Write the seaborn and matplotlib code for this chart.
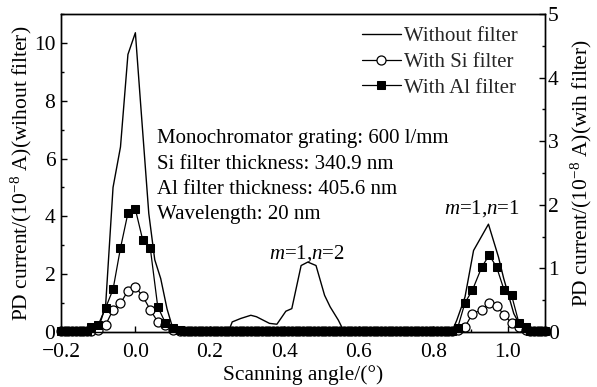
import numpy as np
import pandas as pd
import matplotlib
matplotlib.use('Agg')
import matplotlib.pyplot as plt
import seaborn as sns
from matplotlib.ticker import MultipleLocator

# ---- data ----
# without filter (left axis, 1e-8 A)
x_wo = [-0.20, -0.14, -0.12, -0.10, -0.08, -0.06, -0.04, -0.02, 0.00, 0.014, 0.036,
        0.052, 0.068, 0.085, 0.10, 0.12, 0.25, 0.26, 0.283, 0.31, 0.325, 0.36, 0.38,
        0.404, 0.42, 0.445, 0.463, 0.485, 0.508, 0.523, 0.545, 0.56, 0.85, 0.863,
        0.885, 0.908, 0.948, 0.975, 0.989, 1.016, 1.03, 1.045, 1.10]
y_wo = [0.0, 0.02, 0.08, 0.1, 0.9, 5.0, 6.4, 9.6, 10.35, 7.9, 4.1,
        2.5, 1.85, 0.8, 0.15, 0.02, 0.02, 0.35, 0.47, 0.58, 0.53, 0.3, 0.27,
        0.72, 0.81, 2.3, 2.42, 2.3, 1.27, 0.87, 0.41, 0.02, 0.02, 0.41,
        1.21, 2.82, 3.73, 2.59, 1.85, 0.64, 0.3, 0.05, 0.0]

# scan grid where the filtered signals sit on the baseline
base_left = list(np.round(np.arange(-0.20, -0.125, 0.01), 2))
base_mid = list(np.round(np.arange(0.13, 0.855, 0.01), 2))
base_right = list(np.round(np.arange(1.06, 1.105, 0.01), 2))

# peak regions (right axis, 1e-8 A)
x_pk0 = [-0.12, -0.10, -0.08, -0.06, -0.04, -0.02, 0.00, 0.02, 0.04, 0.06, 0.08, 0.10, 0.12]
al_pk0 = [0.08, 0.11, 0.38, 0.67, 1.32, 1.87, 1.93, 1.44, 1.32, 0.40, 0.15, 0.06, 0.03]
si_pk0 = [0.02, 0.03, 0.11, 0.35, 0.45, 0.65, 0.71, 0.56, 0.35, 0.16, 0.11, 0.03, 0.01]

x_pk1 = [0.865, 0.885, 0.905, 0.93, 0.95, 0.97, 0.99, 1.01, 1.03, 1.05]
al_pk1 = [0.06, 0.46, 0.66, 1.02, 1.21, 1.02, 0.66, 0.58, 0.14, 0.08]
si_pk1 = [0.03, 0.08, 0.29, 0.35, 0.45, 0.41, 0.27, 0.14, 0.08, 0.03]

x_f = base_left + x_pk0 + base_mid + x_pk1 + base_right
al = [0.01] * len(base_left) + al_pk0 + [0.01] * len(base_mid) + al_pk1 + [0.02] * len(base_right)
si = [0.01] * len(base_left) + si_pk0 + [0.01] * len(base_mid) + si_pk1 + [0.01] * len(base_right)

info = ['Monochromator grating: 600 l/mm',
        'Si filter thickness: 340.9 nm',
        'Al filter thickness: 405.6 nm',
        'Wavelength: 20 nm']

df_wo = pd.DataFrame({'angle': x_wo, 'current': y_wo})
df_f = pd.DataFrame({'angle': x_f, 'Si': si, 'Al': al})

sns.set_theme(style='ticks')
plt.rcParams['font.family'] = ['Liberation Serif', 'Noto Sans CJK SC']
plt.rcParams['mathtext.fontset'] = 'custom'
plt.rcParams['mathtext.rm'] = 'Liberation Serif'
plt.rcParams['mathtext.it'] = 'Liberation Serif:italic'
plt.rcParams['xtick.direction'] = 'in'
plt.rcParams['ytick.direction'] = 'in'
plt.rcParams['axes.linewidth'] = 1.0

fig = plt.figure(figsize=(5.97, 3.87), dpi=100)
ax = fig.add_axes([0.102, 0.142, 0.811, 0.822])
ax2 = ax.twinx()

sns.lineplot(data=df_wo, x='angle', y='current', ax=ax, color='black', lw=1.0,
             sort=False, label='Without filter', legend=False)
sns.lineplot(data=df_f, x='angle', y='Si', ax=ax2, color='black', lw=0.9, sort=False,
             marker='o', markersize=6.5, markerfacecolor='white', markeredgecolor='black',
             markeredgewidth=0.9, label='With Si filter', legend=False, clip_on=False)
sns.lineplot(data=df_f, x='angle', y='Al', ax=ax2, color='black', lw=0.9, sort=False,
             marker='s', markersize=5.5, markerfacecolor='black', markeredgecolor='black',
             label='With Al filter', legend=False, clip_on=False)

ax.set_xlim(-0.2, 1.1)
ax.set_ylim(0, 11)
ax2.set_ylim(0, 5)
ax.xaxis.set_minor_locator(MultipleLocator(0.1))
ax.yaxis.set_major_locator(MultipleLocator(2))
ax.yaxis.set_minor_locator(MultipleLocator(1))
ax2.yaxis.set_major_locator(MultipleLocator(1))
ax2.yaxis.set_minor_locator(MultipleLocator(0.5))
ax.set_xticks([-0.2, 0.0, 0.2, 0.4, 0.6, 0.8, 1.0])
ax.set_xticklabels(['\u22120.2', '0.0', '0.2', '0.4', '0.6', '0.8', '1.0'])

for a in (ax, ax2):
    a.tick_params(which='major', length=4, width=1, labelsize=15.5, color='black', pad=4)
    a.tick_params(which='minor', length=2.5, width=1, color='black')
    for s in a.spines.values():
        s.set_color('black')
ax.tick_params(axis='x', pad=8)
ax2.tick_params(axis='y', pad=2)
ax.tick_params(axis='both', labelcolor='black')
ax2.tick_params(axis='y', labelcolor='black')

ax.set_xlabel('Scanning angle/(°)', fontsize=15.5, color='black', labelpad=2)
ax.set_ylabel('PD current/(10$^{\u22128}$ A)(wihout filter)', fontsize=15.5, color='black', labelpad=0)
ax2.set_ylabel('PD current/(10$^{\u22128}$ A)(wih filter)', fontsize=15.5, color='black', labelpad=7)

h1, l1 = ax.get_legend_handles_labels()
h2, l2 = ax2.get_legend_handles_labels()
ax2.legend(h1 + h2, l1 + l2, loc='upper right', bbox_to_anchor=(0.97, 1.0), frameon=False,
           fontsize=15, handlelength=1.9, handletextpad=0.15, labelspacing=0.3,
           borderaxespad=0.2)

for i, t in enumerate(info):
    ax.text(0.198, 0.607 - i * 0.079, t, transform=ax.transAxes, fontsize=15,
            va='center', ha='left', color='black')

ax.text(0.46, 2.7, '$m$=1,$n$=2', fontsize=15, ha='center', va='center', color='black')
ax.text(0.93, 4.26, '$m$=1,$n$=1', fontsize=15, ha='center', va='center', color='black')

fig.savefig('out.png', dpi=100)
